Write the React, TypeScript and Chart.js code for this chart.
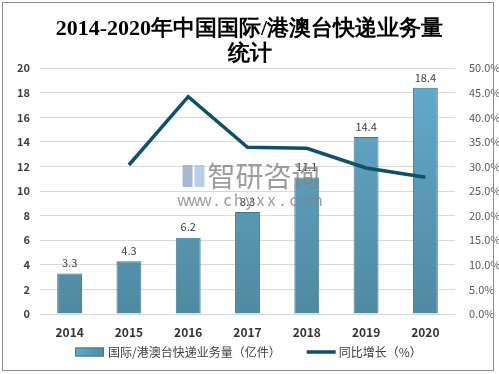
import React, { useEffect, useRef } from 'react';
import { Chart, registerables } from 'chart.js';

Chart.register(...registerables);

const years = ['2014', '2015', '2016', '2017', '2018', '2019', '2020'];
const volume = [3.3, 4.3, 6.2, 8.3, 11.1, 14.4, 18.4];
const growth = [null, 30.3, 44.2, 33.9, 33.7, 29.7, 27.8];
const titleLines = ['2014-2020年中国国际/港澳台快递业务量', '统计'];
const barLabel = '国际/港澳台快递业务量（亿件）';
const lineLabel = '同比增长（%）';
const watermarkName = '智研咨询';
const watermarkUrl = 'www.chyxx.com';

const SANS = "'Microsoft YaHei', 'Noto Sans CJK SC', 'Noto Sans', sans-serif";
const BAR_TOP = '#66aacd';
const BAR_BOTTOM = '#4f8aa0';
const BAR_EDGE = '#3f7689';
const LINE_COLOR = '#0f5169';

export default function App() {
  const ref = useRef<HTMLCanvasElement | null>(null);

  useEffect(() => {
    document.body.style.margin = '0';
    const canvas = ref.current;
    if (!canvas) return;

    const frame = {
      id: 'frame',
      beforeDraw(chart: any) {
        const ctx = chart.ctx;
        ctx.save();
        ctx.fillStyle = '#ffffff';
        ctx.fillRect(0, 0, chart.width, chart.height);
        ctx.restore();
      },
      afterDraw(chart: any) {
        const ctx = chart.ctx;
        ctx.save();
        // legend
        ctx.font = `12px ${SANS}`;
        const w1 = ctx.measureText(barLabel).width;
        const w2 = ctx.measureText(lineLabel).width;
        const total = 29 + 4 + w1 + 26 + 29 + 3 + w2;
        let x = Math.round((chart.width - total) / 2) - 1;
        const y = 352;
        const g = ctx.createLinearGradient(x, y - 4.5, x + 29, y + 4.5);
        g.addColorStop(0, BAR_TOP);
        g.addColorStop(1, BAR_BOTTOM);
        ctx.fillStyle = g;
        ctx.fillRect(x, y - 4.5, 29, 9);
        ctx.strokeStyle = BAR_EDGE;
        ctx.lineWidth = 1;
        ctx.strokeRect(x + 0.5, y - 4, 28, 8);
        x += 29 + 4;
        ctx.fillStyle = '#404040';
        ctx.textBaseline = 'middle';
        ctx.textAlign = 'left';
        ctx.fillText(barLabel, x, y);
        x += w1 + 26;
        ctx.strokeStyle = LINE_COLOR;
        ctx.lineWidth = 3.5;
        ctx.beginPath();
        ctx.moveTo(x, y);
        ctx.lineTo(x + 29, y);
        ctx.stroke();
        x += 29 + 3;
        ctx.fillText(lineLabel, x, y);
        // frame
        ctx.strokeStyle = '#8c8c8c';
        ctx.lineWidth = 1;
        ctx.strokeRect(2.5, 2.5, 491, 368);
        ctx.restore();
      },
    };

    const labels = {
      id: 'barLabels',
      afterDatasetsDraw(chart: any) {
        const ctx = chart.ctx;
        const meta = chart.getDatasetMeta(0);
        ctx.save();
        ctx.font = `11px ${SANS}`;
        ctx.fillStyle = '#404040';
        ctx.textAlign = 'center';
        ctx.textBaseline = 'bottom';
        meta.data.forEach((el: any, i: number) => {
          ctx.fillText(String(volume[i]), el.x, el.y - 5);
        });
        // watermark
        const a = chart.chartArea;
        const cx = (a.left + a.right) / 2 - 10;
        ctx.globalAlpha = 0.8;
        ctx.fillStyle = '#8fa6c9';
        ctx.fillRect(cx - 55, 165, 10, 22);
        ctx.fillStyle = '#a9c3e0';
        ctx.fillRect(cx - 43, 165, 10, 22);
        ctx.fillStyle = '#858585';
        ctx.font = `28px ${SANS}`;
        ctx.textBaseline = 'middle';
        ctx.textAlign = 'left';
        ctx.fillText(watermarkName, cx - 30, 176);
        ctx.font = `16px ${SANS}`;
        ctx.textAlign = 'center';
        const chars = watermarkUrl.split('');
        const step = 11;
        const x0 = cx + 12 - ((chars.length - 1) * step) / 2;
        chars.forEach((ch, i) => ctx.fillText(ch, x0 + i * step, 200));
        ctx.restore();
      },
    };

    const chart = new Chart(canvas, {
      type: 'bar',
      data: {
        labels: years,
        datasets: [
          {
            type: 'bar',
            label: barLabel,
            data: volume,
            yAxisID: 'y',
            backgroundColor: (c: any) => {
              const area = c.chart.chartArea;
              if (!area) return BAR_TOP;
              const g = c.chart.ctx.createLinearGradient(0, area.top, 0, area.bottom);
              g.addColorStop(0, BAR_TOP);
              g.addColorStop(1, BAR_BOTTOM);
              return g;
            },
            borderColor: BAR_EDGE,
            borderWidth: 1,
            barPercentage: 0.42,
            categoryPercentage: 1,
            order: 2,
          } as any,
          {
            type: 'line',
            label: lineLabel,
            data: growth,
            yAxisID: 'y1',
            borderColor: LINE_COLOR,
            backgroundColor: LINE_COLOR,
            borderWidth: 3.5,
            pointRadius: 0,
            tension: 0,
            order: 1,
          } as any,
        ],
      },
      options: {
        animation: false,
        responsive: false,
        layout: { padding: { left: 0, right: 0, top: 0, bottom: 30 } },
        plugins: {
          tooltip: { enabled: false },
          legend: { display: false },
          title: {
            display: true,
            text: titleLines,
            color: '#000000',
            font: { size: 22, weight: 'bold', family: "'Liberation Serif', 'DejaVu Serif', serif", lineHeight: 1.14 },
            padding: { top: 17, bottom: 1 },
          },
        },
        scales: {
          x: {
            grid: { display: false, drawTicks: false },
            border: { display: false },
            ticks: { color: '#333333', font: { size: 12, weight: 'bold', family: SANS }, padding: 11 },
            afterFit: (s: any) => { s.height = 30; },
          },
          y: {
            position: 'left',
            min: 0,
            max: 20,
            grid: { color: '#d9d9d9', drawTicks: false },
            border: { display: false },
            ticks: { stepSize: 2, color: '#404040', font: { size: 11, weight: 'bold', family: SANS }, padding: 10 },
            afterFit: (s: any) => { s.width = 40; },
          },
          y1: {
            position: 'right',
            min: 0,
            max: 50,
            grid: { display: false },
            border: { display: false },
            ticks: { stepSize: 5, color: '#595959', font: { size: 11, family: SANS }, padding: 6, callback: (v: any) => Number(v).toFixed(1) + '%' },
            afterFit: (s: any) => { s.width = 44; },
          },
        },
      } as any,
      plugins: [frame, labels],
    });

    return () => chart.destroy();
  }, []);

  return (
    <div style={{ width: 499, height: 374 }}>
      <canvas ref={ref} width={499} height={374} style={{ display: 'block' }} />
    </div>
  );
}
